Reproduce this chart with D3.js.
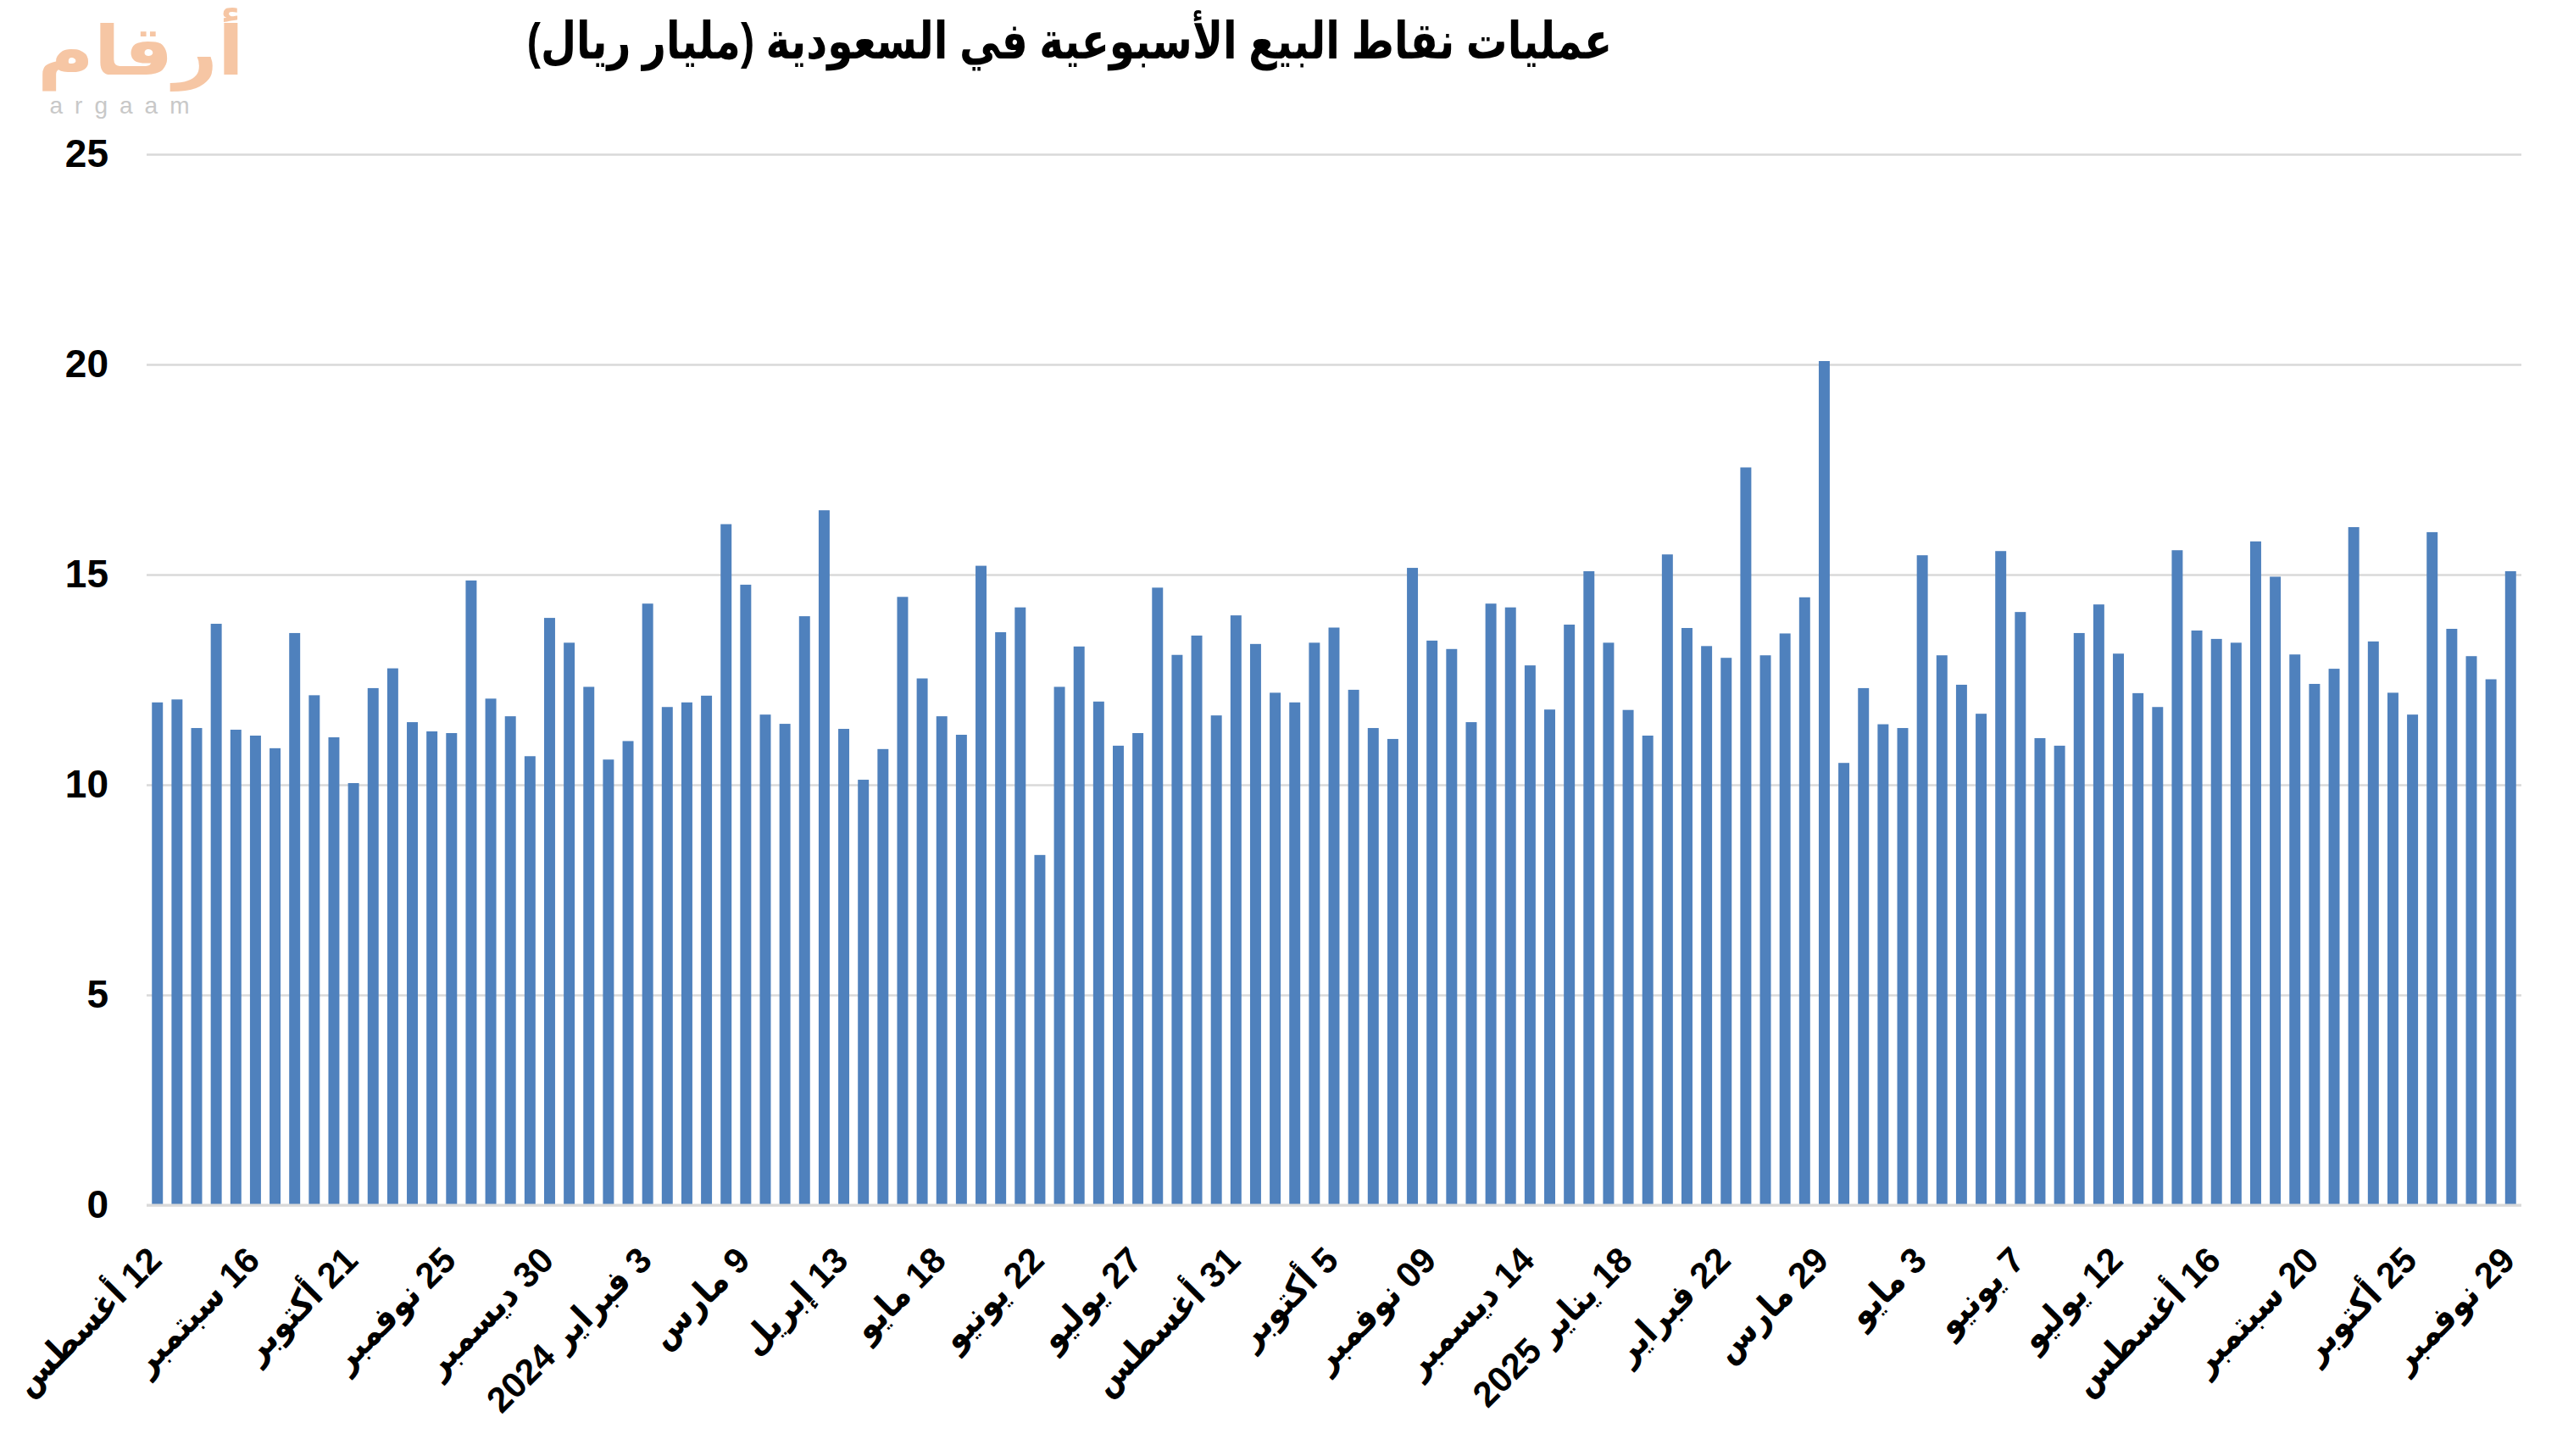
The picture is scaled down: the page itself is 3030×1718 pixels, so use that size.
<!DOCTYPE html>
<html>
<head>
<meta charset="utf-8">
<script src="https://cdn.jsdelivr.net/npm/d3@7"></script>
<style>
  html, body { margin: 0; padding: 0; background: #ffffff; }
  svg { display: block; }
</style>
</head>
<body>
<svg id="chart" width="3030" height="1718"></svg>
<script>
// ---- data (weekly POS transactions, SAR billion) ----
const weekIndex = d3.range(121); // weeks from 12 Aug 2023 to 29 Nov 2025
const values = [
  11.96, 12.03, 11.35, 13.83, 11.31, 11.17, 10.87, 13.61, 12.13, 11.13,
  10.04, 12.30, 12.77, 11.49, 11.27, 11.23, 14.86, 12.05, 11.63, 10.68,
  13.97, 13.38, 12.33, 10.60, 11.04, 14.31, 11.85, 11.96, 12.12, 16.20,
  14.76, 11.67, 11.45, 14.01, 16.53, 11.33, 10.12, 10.85, 14.47, 12.53,
  11.63, 11.19, 15.21, 13.63, 14.22, 8.33, 12.33, 13.29, 11.98, 10.93,
  11.23, 14.69, 13.09, 13.55, 11.65, 14.03, 13.35, 12.19, 11.96, 13.38,
  13.74, 12.26, 11.35, 11.09, 15.16, 13.43, 13.23, 11.49, 14.31, 14.22,
  12.84, 11.79, 13.81, 15.08, 13.38, 11.78, 11.17, 15.48, 13.73, 13.30,
  13.02, 17.55, 13.08, 13.60, 14.46, 20.08, 10.52, 12.30, 11.44, 11.35,
  15.46, 13.08, 12.38, 11.69, 15.56, 14.11, 11.11, 10.93, 13.61, 14.29,
  13.12, 12.18, 11.85, 15.58, 13.67, 13.47, 13.38, 15.79, 14.95, 13.10,
  12.40, 12.76, 16.13, 13.41, 12.19, 11.67, 16.01, 13.71, 13.06, 12.51,
  15.08
];
const tickWeeks = [0,5,10,15,20,25,30,35,40,45,50,55,60,65,70,75,80,85,90,95,100,105,110,115,120];
const tickLabels = [
  "12 أغسطس","16 سبتمبر","21 أكتوبر","25 نوفمبر","30 ديسمبر","3 فبراير 2024",
  "9 مارس","13 إبريل","18 مايو","22 يونيو","27 يوليو","31 أغسطس","5 أكتوبر",
  "09 نوفمبر","14 ديسمبر","18 يناير 2025","22 فبراير","29 مارس","3 مايو",
  "7 يونيو","12 يوليو","16 أغسطس","20 سبتمبر","25 أكتوبر","29 نوفمبر"
];
const yTicks = [0, 5, 10, 15, 20, 25];
const titleText = "عمليات نقاط البيع الأسبوعية في السعودية (مليار ريال)";

// ---- layout ----
const svg = d3.select("#chart");
const plotLeft = 173, plotRight = 2975, plotTop = 182, plotBottom = 1422;
const FONT = "'Liberation Sans', 'DejaVu Sans', Arial, sans-serif";
const FONT_COND = "'Liberation Sans', 'DejaVu Sans Condensed', 'DejaVu Sans', Arial, sans-serif";

const x = d3.scaleBand().domain(weekIndex).range([plotLeft, plotRight])
  .paddingInner(0.44).paddingOuter(0.27);
const y = d3.scaleLinear().domain([0, 25]).range([plotBottom, plotTop]);

// gridlines + y labels
const yAxis = d3.axisLeft(y).tickValues(yTicks).tickSize(-(plotRight - plotLeft)).tickPadding(45);
const gy = svg.append("g").attr("transform", `translate(${plotLeft},0)`).call(yAxis);
gy.select(".domain").remove();
gy.selectAll(".tick line").attr("stroke", "#d9d9d9").attr("stroke-width", 2.5);
gy.selectAll(".tick text")
  .attr("font-family", FONT).attr("font-weight", "bold")
  .attr("font-size", 46).attr("fill", "#000");

// bars
svg.append("g").selectAll("rect").data(weekIndex).join("rect")
  .attr("x", d => x(d))
  .attr("width", x.bandwidth())
  .attr("y", d => y(values[d]))
  .attr("height", d => y(0) - y(values[d]))
  .attr("fill", "#4f81bd");

// baseline
svg.append("line").attr("x1", plotLeft).attr("x2", plotRight)
  .attr("y1", plotBottom).attr("y2", plotBottom)
  .attr("stroke", "#d9d9d9").attr("stroke-width", 3);

// x labels (rotated)
const labelMap = new Map(tickWeeks.map((w, i) => [w, tickLabels[i]]));
const xAxis = d3.axisBottom(x).tickValues(tickWeeks).tickSize(0).tickFormat(d => labelMap.get(d));
const gx = svg.append("g").attr("transform", `translate(0,${plotBottom})`).call(xAxis);
gx.select(".domain").remove();
gx.selectAll(".tick text")
  .attr("font-family", FONT_COND).attr("font-weight", "bold")
  .attr("font-size", 42).attr("fill", "#000")
  .attr("direction", "rtl")
  .attr("text-anchor", "start")
  .attr("y", 0).attr("dy", "0.35em")
  .attr("transform", "translate(-3,57) rotate(-45)");

// title (condensed to the original's width)
const title = svg.append("text")
  .attr("x", 0).attr("y", 0)
  .attr("direction", "rtl")
  .attr("text-anchor", "middle")
  .attr("font-family", FONT).attr("font-weight", "bold")
  .attr("font-size", 60).attr("fill", "#000")
  .text(titleText);
const tw = title.node().getComputedTextLength();
title.attr("transform", `translate(1262,69) scale(${1281 / tw},1)`);

// logo
const logo = svg.append("text")
  .attr("x", 0).attr("y", 0)
  .attr("direction", "rtl")
  .attr("text-anchor", "middle")
  .attr("font-family", FONT).attr("font-weight", "bold")
  .attr("font-size", 80).attr("fill", "#f6c6a4")
  .text("أرقام");
const lw = logo.node().getComputedTextLength();
logo.attr("transform", `translate(166,88) scale(${244 / lw},1)`);
svg.append("text")
  .attr("x", 148).attr("y", 134)
  .attr("text-anchor", "middle")
  .attr("font-family", FONT)
  .attr("font-size", 28).attr("fill", "#c8c8c8")
  .attr("letter-spacing", 14)
  .text("argaam");
</script>
</body>
</html>
